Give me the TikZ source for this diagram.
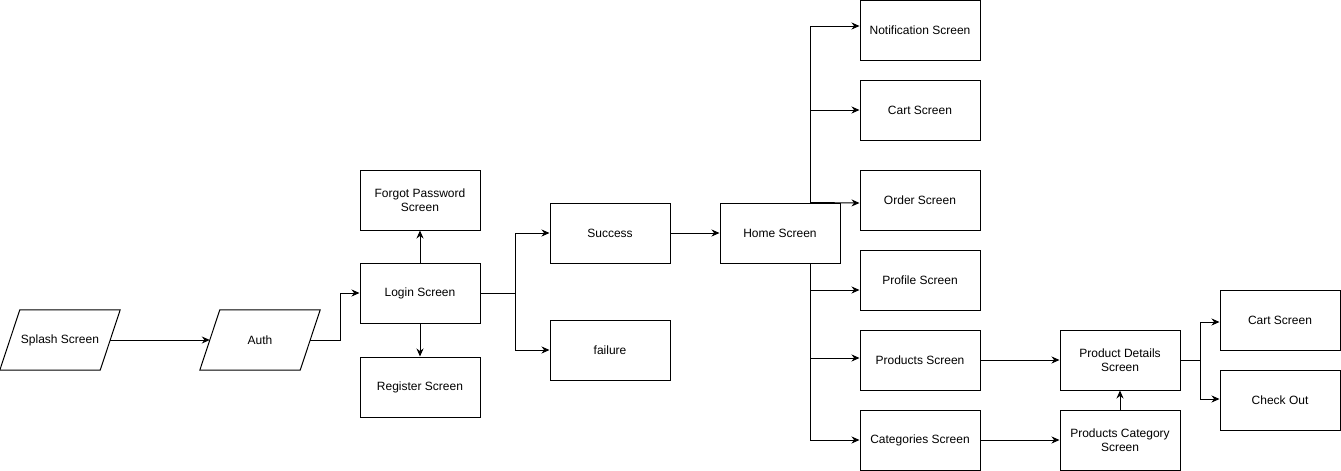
\documentclass[tikz,border=0pt]{standalone}
\usepackage{fontspec}
\setmainfont{Liberation Sans}
\usetikzlibrary{arrows.meta}
\begin{document}
\begin{tikzpicture}[x=1pt,y=-1pt,
  box/.style={draw=black,line width=1pt,fill=white,minimum width=120pt,minimum height=60pt,inner sep=0pt,align=center,font=\fontsize{12}{14}\selectfont},
  para/.style={draw=none,minimum width=100pt,minimum height=60pt,inner sep=0pt,align=center,font=\fontsize{12}{14}\selectfont},
  edge/.style={draw=black,line width=1pt,-{Stealth[length=8pt,width=7pt]}},
  plain/.style={draw=black,line width=1pt}]
\useasboundingbox (0,0) rectangle (1341,471);
% parallelograms
\node[para] (splash) at (60,340) {Splash Screen};
\node[para] (auth) at (260,340) {Auth};
\foreach \n in {splash,auth}{
  \draw[plain] ([xshift=-10pt]\n.south west) -- ([xshift=10pt]\n.north west) -- ([xshift=10pt]\n.north east) -- ([xshift=-10pt]\n.south east) -- cycle;
}
% boxes
\node[box] (login) at (420,293) {Login Screen};
\node[box] (forgot) at (420,200) {Forgot Password\\Screen};
\node[box] (register) at (420,387) {Register Screen};
\node[box] (success) at (610,233) {Success};
\node[box] (failure) at (610,350) {failure};
\node[box] (home) at (780,233) {Home Screen};
\node[box] (notif) at (920,30) {Notification Screen};
\node[box] (cart) at (920,110) {Cart Screen};
\node[box] (order) at (920,200) {Order Screen};
\node[box] (profile) at (920,280) {Profile Screen};
\node[box] (products) at (920,360) {Products Screen};
\node[box] (categories) at (920,440) {Categories Screen};
\node[box] (pdetails) at (1120,360) {Product Details\\Screen};
\node[box] (pcat) at (1120,440) {Products Category\\Screen};
\node[box] (cart2) at (1280,320) {Cart Screen};
\node[box] (checkout) at (1280,400) {Check Out};
% connectors
\draw[edge] (splash.east) -- (auth.west);
\draw[edge] (auth.east) -- ++(30,0) |- (login.west);
\draw[edge] (login.north) -- (forgot.south);
\draw[edge] (login.south) -- (register.south |- register.north);
\draw[edge] (login.east) -- ++(35,0) |- (success.west);
\draw[edge] (login.east) -- ++(35,0) |- (failure.west);
\draw[edge] (success.east) -- (home.west);
\draw[edge] ([xshift=30pt]home.north) |- ([yshift=4pt]notif.west);
\draw[edge] ([xshift=30pt]home.north) |- (cart.west);
\draw[edge] ([xshift=30pt]home.north) -- ([yshift=-3pt]order.west);
\draw[edge] ([xshift=30pt]home.south) |- ([yshift=-10pt]profile.west);
\draw[edge] ([xshift=30pt]home.south) |- ([yshift=2pt]products.west);
\draw[edge] ([xshift=30pt]home.south) |- (categories.west);
\draw[edge] (products.east) -- (pdetails.west);
\draw[edge] (categories.east) -- (pcat.west);
\draw[edge] (pcat.north) -- (pdetails.south);
\draw[edge] (pdetails.east) -- ++(20,0) |- ([yshift=-2pt]cart2.west);
\draw[edge] (pdetails.east) -- ++(20,0) |- ([yshift=1pt]checkout.west);
\end{tikzpicture}
\end{document}
